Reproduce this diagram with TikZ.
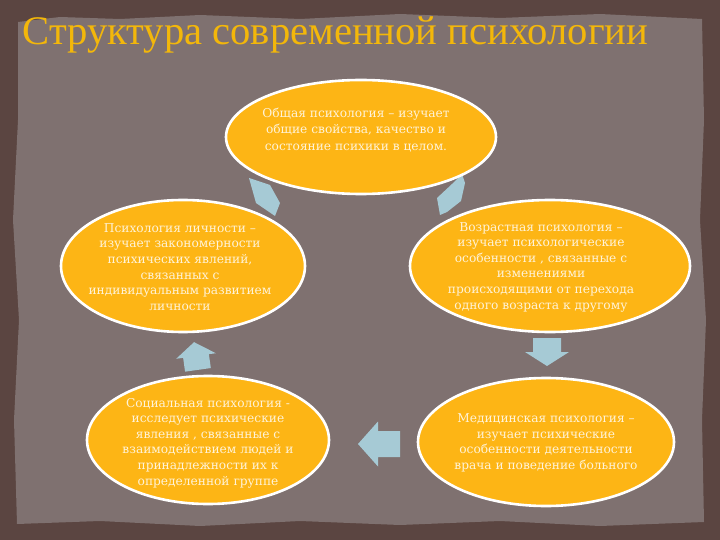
\documentclass[tikz,border=0pt]{standalone}
\usepackage{fontspec}
\setmainfont{DejaVu Serif}
\newfontfamily\titlefont{Liberation Serif}
\usetikzlibrary{shapes.geometric}
\definecolor{bgout}{HTML}{5B4541}
\definecolor{bgin}{HTML}{7F7170}
\definecolor{ellfill}{HTML}{FDB515}
\definecolor{txt}{HTML}{FFF3D8}
\definecolor{arrowc}{HTML}{A6CAD5}
\definecolor{titlec}{HTML}{F3B70A}
\newcommand{\barrow}[4]{(#1/2,0) -- (#1/2-#2,#3/2) -- (#1/2-#2,#4/2) -- (-#1/2,#4/2) -- (-#1/2,-#4/2) -- (#1/2-#2,-#4/2) -- (#1/2-#2,-#3/2) -- cycle}
\tikzset{
  ell/.style={ellipse, fill=ellfill, draw=white, line width=2.6pt, inner sep=0pt},
  etext/.style={text=txt, align=center, font=\fontsize{12.2}{15.6}\selectfont},
  blockarr/.style={fill=arrowc}
}
\begin{document}
\begin{tikzpicture}[x=1pt,y=-1pt]
\useasboundingbox (0,0) rectangle (720,540);
% background
\fill[bgout] (0,0) rectangle (720,540);
\fill[bgin] (18,22) -- (60,17) -- (120,19) -- (200,15) -- (300,19) -- (400,14) -- (500,18) -- (600,14) -- (702,19)
  -- (704,120) -- (700,220) -- (706,320) -- (702,420) -- (704,522)
  -- (600,526) -- (500,521) -- (400,525) -- (300,521) -- (200,526) -- (100,521) -- (17,524)
  -- (14,420) -- (19,320) -- (13,220) -- (18,120) -- cycle;
% title
\node[anchor=base west, text=titlec, font=\titlefont\fontsize{40.6}{42}\selectfont] (title) at (19,45) {Структура современной психологии};
% arrows (drawn under the ellipses)
\fill[blockarr] (249,178) -- (270,185) -- (280,203) -- (275,216) -- (256,203) -- cycle;
\fill[blockarr] (437,198) -- (452,184) -- (462,174) -- (465,183) -- (461,201) -- (447,212) -- (440,215) -- cycle;
\fill[blockarr, shift={(547,352)}, rotate=-90] \barrow{28}{14}{44}{28};
\fill[blockarr, shift={(379,444)}, rotate=180] \barrow{42}{20}{45}{26};
\fill[blockarr, shift={(196,356)}, rotate=98] \barrow{28}{14}{40}{26};
% ellipses
\node[ell, minimum width=270pt, minimum height=114pt] (gen) at (361,137) {};
\node[etext, font=\fontsize{12.2}{16.5}\selectfont] at (356,130) {Общая психология – изучает\\общие свойства, качество и\\состояние психики в целом.};
\node[ell, minimum width=244pt, minimum height=132pt] (pers) at (183,266) {};
\node[etext] at (180,267) {Психология личности –\\изучает закономерности\\психических явлений,\\связанных с\\индивидуальным развитием\\личности};
\node[ell, minimum width=280pt, minimum height=132pt] (age) at (550,266) {};
\node[etext] at (541,267) {Возрастная психология –\\изучает психологические\\особенности , связанные с\\изменениями\\происходящими от перехода\\одного возраста к другому};
\node[ell, minimum width=242pt, minimum height=128pt] (soc) at (208,440) {};
\node[etext] at (208,443) {Социальная психология -\\исследует психические\\явления , связанные с\\взаимодействием людей и\\принадлежности их к\\определенной группе};
\node[ell, minimum width=256pt, minimum height=128pt] (med) at (546,442) {};
\node[etext] at (546,443) {Медицинская психология –\\изучает психические\\особенности деятельности\\врача и поведение больного};
\end{tikzpicture}
\end{document}
